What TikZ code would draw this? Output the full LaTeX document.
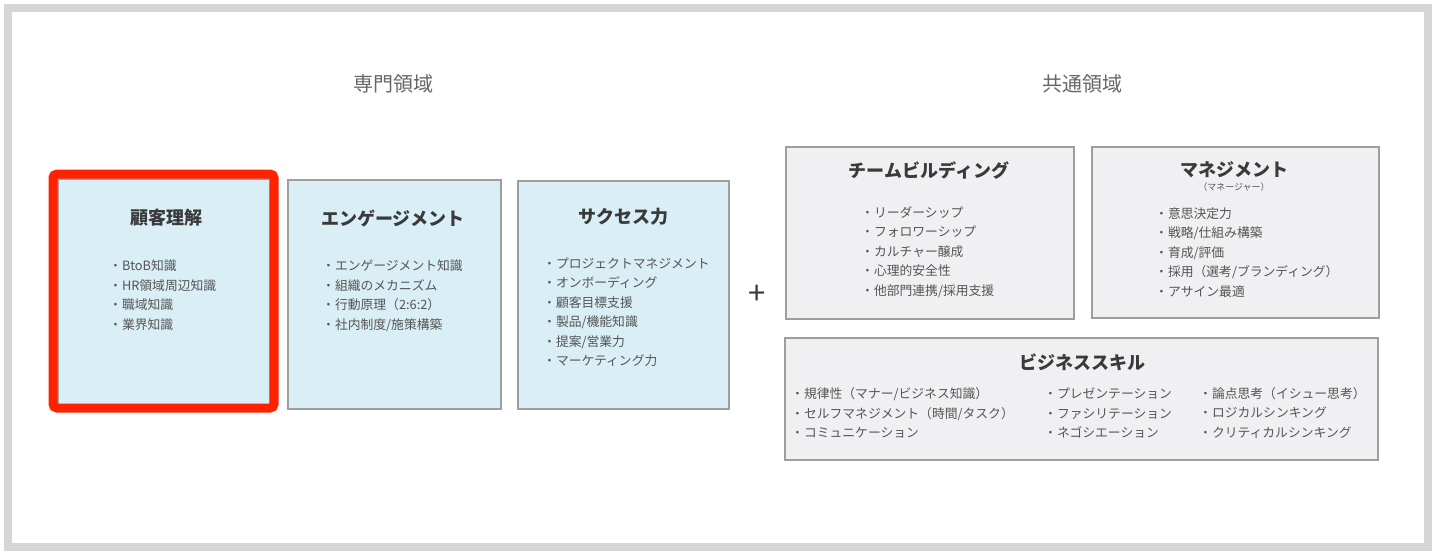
\documentclass[tikz,border=0pt]{standalone}
\usepackage{fontspec}
\newfontfamily\jp{Noto Sans CJK JP}
\definecolor{framegray}{HTML}{D6D6D6}
\definecolor{boxline}{HTML}{9E9E9E}
\definecolor{bluefill}{HTML}{D9EEF5}
\definecolor{grayfill}{HTML}{F0F0F2}
\definecolor{titlecol}{HTML}{3A3A3A}
\definecolor{itemcol}{HTML}{555555}
\definecolor{headcol}{HTML}{666666}
\definecolor{redline}{HTML}{FF2200}
\tikzset{
  bluebox/.style={draw=boxline, line width=1.5pt, fill=bluefill},
  graybox/.style={draw=boxline, line width=1.5pt, fill=grayfill},
  boxtitle/.style={inner sep=0, text=titlecol, font=\jp\bfseries\fontsize{18}{18}\selectfont},
  items/.style={anchor=west, align=left, inner sep=0, text=itemcol, font=\jp\fontsize{12.8}{19.5}\selectfont},
  header/.style={inner sep=0, text=headcol, font=\jp\fontsize{20}{20}\selectfont},
  subtitle/.style={inner sep=0, text=itemcol, font=\jp\fontsize{9}{9}\selectfont},
}
\begin{document}
\begin{tikzpicture}[x=1pt,y=-1pt]
\useasboundingbox (0,0) rectangle (1440,558);
\fill[white] (0,0) rectangle (1440,558);
\draw[framegray, line width=8pt] (8,8) rectangle (1428,547);

% headers
\node[header] (h1) at (393,84) {専門領域};
\node[header] (h2) at (1082,84) {共通領域};

% specialist boxes
\draw[bluebox] (58,179) rectangle (270,408);
\draw[redline, line width=9pt, rounded corners=4pt] (53,174) rectangle (274,408);
\node[boxtitle] (t1) at (166,218) {顧客理解};
\node[items] (i1) at (109,295) {・BtoB知識\\・HR領域周辺知識\\・職域知識\\・業界知識};

\draw[bluebox] (288,180) rectangle (501,409);
\node[boxtitle] (t2) at (393,218) {エンゲージメント};
\node[items] (i2) at (322,296) {・エンゲージメント知識\\・組織のメカニズム\\・行動原理（2:6:2）\\・社内制度/施策構築};

\draw[bluebox] (518,181) rectangle (729,409);
\node[boxtitle] (t3) at (623,217) {サクセス力};
\node[items] (i3) at (543,312) {・プロジェクトマネジメント\\・オンボーディング\\・顧客目標支援\\・製品/機能知識\\・提案/営業力\\・マーケティング力};

% plus
\node[inner sep=0, text=titlecol, font=\jp\fontsize{31}{31}\selectfont] (plus) at (757,295) {+};

% common boxes
\draw[graybox] (786,147) rectangle (1074,319);
\node[boxtitle] (t4) at (929,170) {チームビルディング};
\node[items] (i4) at (861,252) {・リーダーシップ\\・フォロワーシップ\\・カルチャー醸成\\・心理的安全性\\・他部門連携/採用支援};

\draw[graybox] (1092,147) rectangle (1379,318);
\node[boxtitle] (t5) at (1234,170) {マネジメント};
\node[subtitle] (s5) at (1234,187) {（マネージャー）};
\node[items] (i5) at (1155,252.5) {・意思決定力\\・戦略/仕組み構築\\・育成/評価\\・採用（選考/ブランディング）\\・アサイン最適};

\draw[graybox] (785,338) rectangle (1378,460);
\node[boxtitle] (t6) at (1082,362) {ビジネススキル};
\node[items] (i6a) at (791,413) {・規律性（マナー/ビジネス知識）\\・セルフマネジメント（時間/タスク）\\・コミュニケーション};
\node[items] (i6b) at (1044,413) {・プレゼンテーション\\・ファシリテーション\\・ネゴシエーション};
\node[items] (i6c) at (1199,413) {・論点思考（イシュー思考）\\・ロジカルシンキング\\・クリティカルシンキング};
\end{tikzpicture}
\end{document}
